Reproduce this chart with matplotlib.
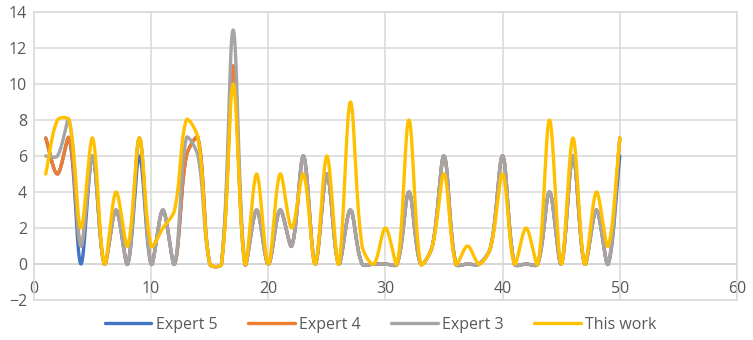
import numpy as np
import matplotlib
matplotlib.use("Agg")
import matplotlib.pyplot as plt

plt.rcParams['font.family'] = ['Open Sans', 'DejaVu Sans']

x = list(range(1, 51))

expert5 = [7, 5, 7, 0, 6, 0, 3, 0, 6, 0, 3, 0, 6, 7, 0, 0, 11, 0, 3, 0,
           3, 1, 6, 0, 5, 0, 3, 0, 0, 0, 0, 4, 0, 1, 6, 0, 0, 0, 1, 6,
           0, 0, 0, 4, 0, 6, 0, 3, 0, 6]
expert4 = [7, 5, 7, 1, 6, 0, 3, 0, 7, 0, 3, 0, 6, 7, 0, 0, 11, 0, 3, 0,
           3, 1, 6, 0, 5, 0, 3, 0, 0, 0, 0, 4, 0, 1, 6, 0, 0, 0, 1, 6,
           0, 0, 0, 4, 0, 6, 0, 3, 0, 7]
expert3 = [6, 6, 8, 1, 6, 0, 3, 0, 7, 0, 3, 0, 7, 6, 0, 0, 13, 0, 3, 0,
           3, 1, 6, 0, 5, 0, 3, 0, 0, 0, 0, 4, 0, 1, 6, 0, 0, 0, 1, 6,
           0, 0, 0, 4, 0, 6, 0, 3, 0, 7]
this_work = [5, 8, 8, 2, 7, 0, 4, 1, 7, 1, 2, 3, 8, 7, 0, 0, 10, 0, 5, 0,
             5, 2, 5, 0, 6, 0, 9, 1, 0, 2, 0, 8, 0, 1, 5, 0, 1, 0, 1, 5,
             0, 2, 0, 8, 0, 7, 0, 4, 1, 7]

names = ['Expert 5', 'Expert 4', 'Expert 3', 'This work']
colors = ['#4472C4', '#ED7D31', '#A5A5A5', '#FFC000']

# pixels per unit on screen, used to weight the smoothing like excel does
SX, SY = 11.72, 18.0


def smooth(xs, ys, n=30):
    # excel style smoothed line: bezier segments, tangent scaled by chord lengths
    p = np.column_stack([xs, ys]).astype(float)
    p = np.vstack([p[0], p, p[-1]])
    sc = np.array([SX, SY])
    t = np.linspace(0, 1, n)[:, None]
    out = []
    for i in range(1, len(p) - 2):
        p0, p1, p2, p3 = p[i - 1], p[i], p[i + 1], p[i + 2]
        d01 = np.hypot(*((p1 - p0) * sc))
        d12 = np.hypot(*((p2 - p1) * sc))
        d23 = np.hypot(*((p3 - p2) * sc))
        f1 = d12 / (d01 + d12) / 3 if d01 + d12 > 0 else 0
        f2 = d12 / (d12 + d23) / 3 if d12 + d23 > 0 else 0
        c1 = p1 + (p2 - p0) * f1
        c2 = p2 - (p3 - p1) * f2
        seg = ((1 - t) ** 3) * p1 + 3 * ((1 - t) ** 2) * t * c1 + 3 * (1 - t) * t ** 2 * c2 + t ** 3 * p2
        out.append(seg if i == 1 else seg[1:])
    out = np.vstack(out)
    return out[:, 0], out[:, 1]


fig = plt.figure(figsize=(7.53, 3.4), dpi=100)
ax = fig.add_axes([34 / 753, 1 - 300 / 340, (737 - 34) / 753, (300 - 12) / 340])

for ys, name, c in zip([expert5, expert4, expert3, this_work], names, colors):
    sx, sy = smooth(x, ys)
    ax.plot(sx, sy, color=c, lw=2.4, label=name, solid_capstyle='round')

ax.set_xlim(0, 60)
ax.set_ylim(-2, 14)
ax.set_xticks(range(0, 61, 10))
ax.set_yticks(range(-2, 15, 2))
ax.grid(True, color='#D9D9D9', lw=1.1)
ax.set_axisbelow(True)
ax.axhline(0, color='#BFBFBF', lw=1.1, zorder=0.5)
for s in ax.spines.values():
    s.set_color('#D9D9D9')
    s.set_linewidth(1.1)

ax.tick_params(axis='both', length=0, labelsize=11.5, labelcolor='#595959')
ax.tick_params(axis='x', pad=-14)
ax.tick_params(axis='y', pad=5)

fig.legend(loc='center', bbox_to_anchor=(381 / 753, 1 - 325 / 340), ncol=4,
           frameon=False, fontsize=11.5, handlelength=2.9, handletextpad=0.3,
           columnspacing=1.9, labelcolor='#595959')

fig.savefig('out.png', dpi=100)
